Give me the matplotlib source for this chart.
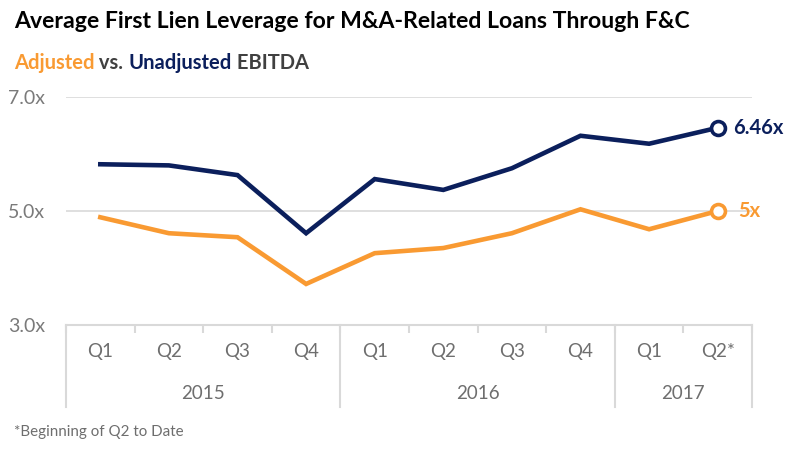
import matplotlib.pyplot as plt
from matplotlib.lines import Line2D

quarters = ["Q1", "Q2", "Q3", "Q4", "Q1", "Q2", "Q3", "Q4", "Q1", "Q2*"]
years = ["2015", "2016", "2017"]
year_sizes = [4, 4, 2]
unadjusted = [5.82, 5.80, 5.63, 4.61, 5.56, 5.37, 5.75, 6.32, 6.18, 6.46]
adjusted = [4.89, 4.61, 4.54, 3.72, 4.26, 4.35, 4.61, 5.03, 4.68, 5.00]

NAVY = "#0b1f5c"
ORANGE = "#f99a32"
GRID = "#d9d9d9"
TXT = "#6e6e6e"

plt.rcParams["font.family"] = ["Lato", "DejaVu Sans"]

fig = plt.figure(figsize=(7.88, 4.5), dpi=100)
ax = fig.add_axes([66 / 788, 1 - 325 / 450, 686 / 788, 228 / 450])

x = list(range(len(quarters)))
ax.plot(x, unadjusted, color=NAVY, lw=3.3, solid_joinstyle="miter", zorder=3)
ax.plot(x, adjusted, color=ORANGE, lw=3.3, solid_joinstyle="miter", zorder=3)
ax.plot(x[-1], unadjusted[-1], "o", ms=10, mfc="white", mec=NAVY, mew=2.6, zorder=4)
ax.plot(x[-1], adjusted[-1], "o", ms=10, mfc="white", mec=ORANGE, mew=2.6, zorder=4)

ax.annotate(f"{unadjusted[-1]:.2f}x", (x[-1], unadjusted[-1]), xytext=(11, 0),
            textcoords="offset points", va="center", ha="left",
            fontsize=14.5, fontweight="bold", color=NAVY)
ax.annotate(f"{adjusted[-1]:g}x", (x[-1], adjusted[-1]), xytext=(15, 0),
            textcoords="offset points", va="center", ha="left",
            fontsize=14.5, fontweight="bold", color=ORANGE)

ax.set_xlim(-0.5, len(quarters) - 0.5)
ax.set_ylim(3, 7)
ax.set_yticks([3, 5, 7])
ax.set_yticklabels(["3.0x", "5.0x", "7.0x"])
ax.tick_params(axis="y", length=0, pad=15, labelsize=14, labelcolor="#7a7a7a")
ax.grid(axis="y", color=GRID, lw=1.2, zorder=0)
for s in ["top", "right", "left"]:
    ax.spines[s].set_visible(False)
ax.spines["bottom"].set_color(GRID)
ax.spines["bottom"].set_linewidth(1.5)

# category axis: quarter ticks, quarter labels, year groups
ax.set_xticks([i - 0.5 for i in range(len(quarters) + 1)])
ax.set_xticklabels([])
ax.tick_params(axis="x", length=6, width=1.5, color=GRID)
tr = ax.get_xaxis_transform()
for i, q in enumerate(quarters):
    ax.text(i, -0.115, q, transform=tr, ha="center", va="center",
            fontsize=13.5, color=TXT)
start = 0
for yr, n in zip(years, year_sizes):
    ax.text(start + (n - 1) / 2, -0.3, yr, transform=tr, ha="center",
            va="center", fontsize=13.5, color=TXT)
    start += n
bounds = [-0.5]
for n in year_sizes:
    bounds.append(bounds[-1] + n)
for b in bounds:
    ax.add_line(Line2D([b, b], [0, -0.36], transform=tr, color=GRID,
                       lw=1.5, clip_on=False))

# titles
fig.text(14 / 788, 1 - 22 / 450, "Average First Lien Leverage for M&A-Related Loans Through F&C",
         fontsize=16.6, fontweight="bold", color="black", va="center")
t1 = fig.text(14 / 788, 1 - 69 / 450, "Adjusted", fontsize=14.5, fontweight="bold",
              color=ORANGE, va="baseline")
t2 = ax.annotate(" vs. ", xy=(1, 0), xycoords=t1, fontsize=14.5, fontweight="bold",
                 color="#404040", va="bottom")
t3 = ax.annotate("Unadjusted", xy=(1, 0), xycoords=t2, fontsize=14.5, fontweight="bold",
                 color=NAVY, va="bottom")
ax.annotate(" EBITDA", xy=(1, 0), xycoords=t3, fontsize=14.5, fontweight="bold",
            color="#404040", va="bottom")

fig.text(14 / 788, 1 - 432 / 450, "*Beginning of Q2 to Date", fontsize=10.9,
         color=TXT, va="center")

fig.savefig("out.png", dpi=100)
